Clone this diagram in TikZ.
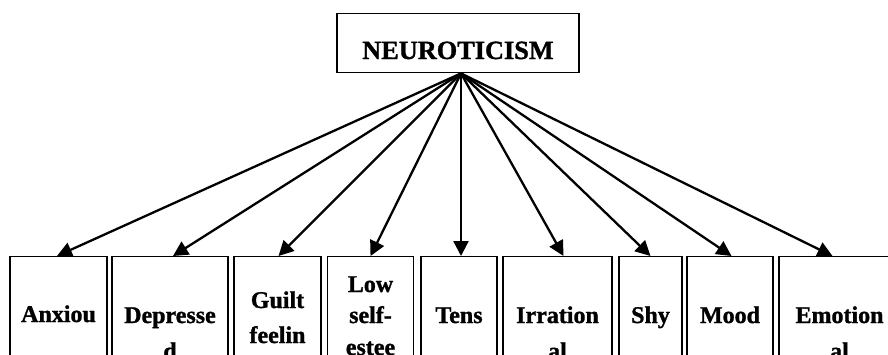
\documentclass[tikz,border=0pt]{standalone}
\usepackage{fontspec}
\setmainfont{Liberation Serif}[BoldFeatures={FakeBold=1.2}]
\usetikzlibrary{arrows.meta}
\tikzset{
  box/.style={draw, line width=1.4pt, inner sep=0pt, anchor=north},
  lbl/.style={anchor=base, inner sep=0pt, font=\bfseries\fontsize{24}{28}\selectfont},
  toplbl/.style={anchor=base, inner sep=0pt, font=\bfseries\fontsize{26.3}{30}\selectfont},
  arr/.style={line width=2.3pt, -{Triangle[length=15pt,width=15pt]}},
}
\begin{document}
\begin{tikzpicture}[x=1pt,y=-1pt]
\useasboundingbox (0,0) rectangle (888,354);
\clip (0,0) rectangle (888,354);
% top box
\node[box, minimum width=242pt, minimum height=59pt] (top) at (458,13) {};
\node[toplbl] (toptext) at (458,59) {NEUROTICISM};
\coordinate (apex) at ([xshift=3pt]top.south);
% bottom boxes
\node[box, minimum width=97pt,  minimum height=150pt] (b1) at (58.5,256) {};
\node[box, minimum width=116pt, minimum height=150pt] (b2) at (170,256) {};
\node[box, minimum width=87pt,  minimum height=150pt] (b3) at (277.5,256) {};
\node[box, minimum width=86pt,  minimum height=150pt] (b4) at (370.5,256) {};
\node[box, minimum width=76pt,  minimum height=150pt] (b5) at (459,256) {};
\node[box, minimum width=109pt, minimum height=150pt] (b6) at (557.5,256) {};
\node[box, minimum width=63pt,  minimum height=150pt] (b7) at (650.5,256) {};
\node[box, minimum width=86pt,  minimum height=150pt] (b8) at (730,256) {};
\node[box, minimum width=121pt, minimum height=150pt] (b9) at (839.5,256) {};
% labels
\node[lbl] (t1a) at (58.5,322) {Anxiou};
\node[lbl] (t2a) at (170,323) {Depresse};
\node[lbl] (t2b) at (170,359) {d};
\node[lbl] (t3a) at (277.5,308) {Guilt};
\node[lbl] (t3b) at (277.5,343) {feelin};
\node[lbl] (t4a) at (370.5,292) {Low};
\node[lbl] (t4b) at (370.5,323) {self-};
\node[lbl] (t4c) at (370.5,355) {estee};
\node[lbl] (t5a) at (459,323) {Tens};
\node[lbl] (t6a) at (557.5,323) {Irration};
\node[lbl] (t6b) at (557.5,359) {al};
\node[lbl] (t7a) at (650.5,323) {Shy};
\node[lbl] (t8a) at (730,323) {Mood};
\node[lbl] (t9a) at (839.5,323) {Emotion};
\node[lbl] (t9b) at (839.5,359) {al};
% arrows
\draw[arr] (apex) -- ([xshift=-1.5pt]b1.north);
\draw[arr] (apex) -- ([xshift=3pt]b2.north);
\draw[arr] (apex) -- ([xshift=1pt]b3.north);
\draw[arr] (apex) -- (b4.north);
\draw[arr] (apex) -- ([xshift=2pt]b5.north);
\draw[arr] (apex) -- ([xshift=6pt]b6.north);
\draw[arr] (apex) -- (b7.north);
\draw[arr] (apex) -- ([xshift=1.5pt]b8.north);
\draw[arr] (apex) -- ([xshift=-7pt]b9.north);
\end{tikzpicture}
\end{document}
